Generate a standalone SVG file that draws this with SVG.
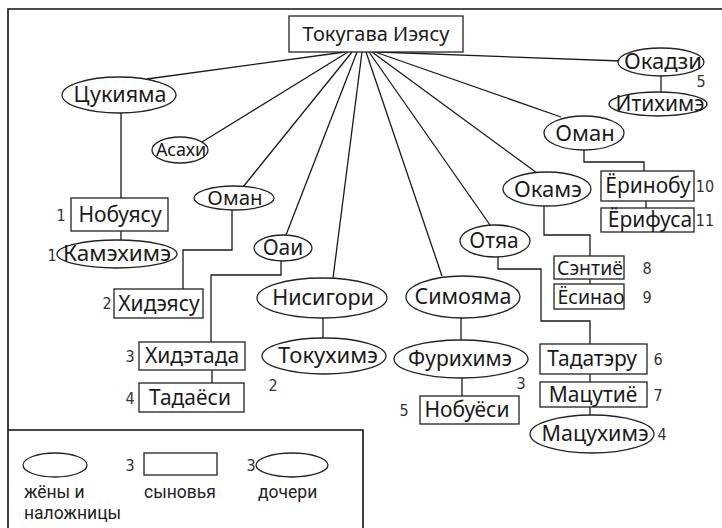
<svg xmlns="http://www.w3.org/2000/svg" width="722" height="528" viewBox="0 0 722 528">
<style>
.n ellipse, .n rect { fill: #fff; stroke: #222; stroke-width: 1.3; }
.t { font-family: "Noto Sans", "Open Sans", sans-serif; font-size: 21px; fill: #1a1a1a; text-anchor: middle; }
.num { font-family: "Liberation Sans Narrow", "DejaVu Sans Condensed", sans-serif; font-size: 16px; fill: #333; text-anchor: middle; }
.lg { font-family: Roboto, "Noto Sans", sans-serif; font-size: 17.5px; fill: #222; }
.c path { stroke: #1a1a1a; stroke-width: 1.3; fill: none; }
.frame { stroke: #111; stroke-width: 1.6; fill: none; }
</style>
<rect width="722" height="528" fill="#fff"/>
<path class="frame" d="M8,528 V9 H722"/>

<g class="c" id="connectors">
  <path d="M345,52 L147,79"/>
  <path d="M348,52 L202,142"/>
  <path d="M352,52 L243,187"/>
  <path d="M357,52 L286,235"/>
  <path d="M362,52 L333,278"/>
  <path d="M366,52 L442,276"/>
  <path d="M369,52 L490,225"/>
  <path d="M372,52 L537,173"/>
  <path d="M375,52 L561,117"/>
  <path d="M378,52 L621,61"/>
  <path d="M121,113 V198"/>
  <path d="M121,231 V240"/>
  <path d="M232,210 V250 H183 V289"/>
  <path d="M281,261 V275 H211 V342"/>
  <path d="M212,370 V383"/>
  <path d="M323,318 V338"/>
  <path d="M461,318 V340"/>
  <path d="M462,378 V396"/>
  <path d="M498,257 V269 H541 V321 H590 V344"/>
  <path d="M590,374 V382"/>
  <path d="M590,407 V415"/>
  <path d="M544,206 V235 H590 V256"/>
  <path d="M590,279 V284"/>
  <path d="M584,150 V162 H644 V171"/>
  <path d="M646,201 V208"/>
  <path d="M661,75 V93"/>
</g>

<g class="n" id="tokugawa"><rect x="289" y="16" width="174" height="36"/><text class="t" x="376" y="41" style="font-size:20px">Токугава Иэясу</text></g>
<g class="n" id="tsukiyama"><ellipse cx="119" cy="95" rx="57" ry="18"/><text class="t" x="120" y="102" style="font-size:21.5px">Цукияма</text></g>
<g class="n" id="asahi"><ellipse cx="180" cy="150" rx="28" ry="13"/><text class="t" x="181" y="156" style="font-size:18px">Асахи</text></g>
<g class="n" id="oman1"><ellipse cx="234" cy="198" rx="40" ry="12"/><text class="t" x="235" y="205" style="font-size:20.5px">Оман</text></g>
<g class="n" id="nobuyasu"><rect x="71" y="198" width="97" height="33"/><text class="t" x="120" y="222">Нобуясу</text><text class="num" x="61" y="221">1</text></g>
<g class="n" id="kamehime"><ellipse cx="117" cy="254" rx="60" ry="14"/><text class="t" x="117" y="261" style="font-size:22.5px">Камэхимэ</text><text class="num" x="52" y="261">1</text></g>
<g class="n" id="hideyasu"><rect x="114" y="289" width="89" height="29"/><text class="t" x="159" y="311">Хидэясу</text><text class="num" x="107" y="309">2</text></g>
<g class="n" id="oai"><ellipse cx="283" cy="248" rx="29" ry="13"/><text class="t" x="283" y="255">Оаи</text></g>
<g class="n" id="hidetada"><rect x="139" y="342" width="106" height="28"/><text class="t" x="192" y="363">Хидэтада</text><text class="num" x="130" y="362">3</text></g>
<g class="n" id="tadayoshi"><rect x="139" y="383" width="105" height="29"/><text class="t" x="190" y="405">Тадаёси</text><text class="num" x="130" y="404">4</text></g>
<g class="n" id="nishigori"><ellipse cx="322" cy="298" rx="65" ry="20"/><text class="t" x="323" y="305" style="font-size:21.5px">Нисигори</text></g>
<g class="n" id="tokuhime"><ellipse cx="324" cy="356" rx="62" ry="18"/><text class="t" x="328" y="363" style="font-size:22px">Токухимэ</text><text class="num" x="273" y="391">2</text></g>
<g class="n" id="shimoyama"><ellipse cx="463" cy="297" rx="57" ry="21"/><text class="t" x="463" y="304" style="font-size:21.5px">Симояма</text></g>
<g class="n" id="furihime"><ellipse cx="461" cy="359" rx="67" ry="19"/><text class="t" x="460" y="366">Фурихимэ</text><text class="num" x="521" y="389">3</text></g>
<g class="n" id="nobuyoshi"><rect x="420" y="396" width="99" height="28"/><text class="t" x="467" y="417">Нобуёси</text><text class="num" x="404" y="416">5</text></g>
<g class="n" id="ochaa"><ellipse cx="495" cy="241" rx="35" ry="16"/><text class="t" x="494" y="248">Отяа</text></g>
<g class="n" id="tadateru"><rect x="540" y="344" width="107" height="30"/><text class="t" x="592" y="366">Тадатэру</text><text class="num" x="658" y="365">6</text></g>
<g class="n" id="matsuchiyo"><rect x="540" y="382" width="107" height="25"/><text class="t" x="593" y="402">Мацутиё</text><text class="num" x="658" y="401">7</text></g>
<g class="n" id="matsuhime"><ellipse cx="592" cy="434" rx="62" ry="19"/><text class="t" x="595" y="441" style="font-size:21.5px">Мацухимэ</text><text class="num" x="662" y="440">4</text></g>
<g class="n" id="okame"><ellipse cx="547" cy="189" rx="44" ry="17"/><text class="t" x="548" y="197" style="font-size:22px">Окамэ</text></g>
<g class="n" id="senchiyo"><rect x="554" y="256" width="70" height="23"/><text class="t" x="590" y="275" style="font-size:19.5px">Сэнтиё</text><text class="num" x="647" y="274">8</text></g>
<g class="n" id="yoshinao"><rect x="554" y="284" width="70" height="25"/><text class="t" x="591" y="304" style="font-size:19.5px">Ёсинао</text><text class="num" x="647" y="303">9</text></g>
<g class="n" id="oman2"><ellipse cx="584" cy="133" rx="40" ry="17"/><text class="t" x="585" y="141" style="font-size:22px">Оман</text></g>
<g class="n" id="yorinobu"><rect x="601" y="171" width="93" height="30"/><text class="t" x="648" y="193">Ёринобу</text><text class="num" x="705" y="192">10</text></g>
<g class="n" id="yorifusa"><rect x="601" y="208" width="93" height="24"/><text class="t" x="650" y="227">Ёрифуса</text><text class="num" x="705" y="226">11</text></g>
<g class="n" id="okaji"><ellipse cx="661" cy="62" rx="43" ry="14"/><text class="t" x="663" y="69" style="font-size:22px">Окадзи</text></g>
<g class="n" id="ichihime"><ellipse cx="658" cy="104" rx="49" ry="12"/><text class="t" x="660" y="111">Итихимэ</text><text class="num" x="701" y="87">5</text></g>

<g id="legend">
  <path class="frame" d="M8,430 H363 V528"/>
  <g class="n"><ellipse cx="55" cy="465" rx="32" ry="12"/><rect x="144" y="453" width="73" height="22"/><ellipse cx="292" cy="465" rx="36" ry="12"/></g>
  <text class="num" x="130" y="471">3</text>
  <text class="num" x="251" y="471">3</text>
  <text class="lg" x="24" y="498">жёны и</text>
  <text class="lg" x="24" y="519">наложницы</text>
  <text class="lg" x="144" y="498">сыновья</text>
  <text class="lg" x="258" y="498">дочери</text>
</g>
</svg>
